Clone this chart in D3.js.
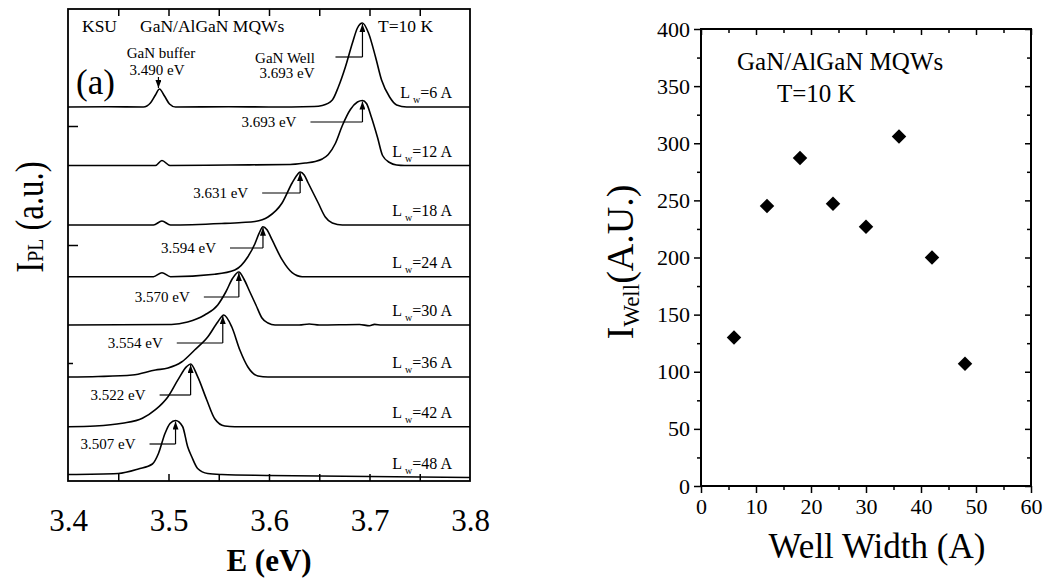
<!DOCTYPE html>
<html>
<head>
<meta charset="utf-8">
<script src="https://cdn.jsdelivr.net/npm/d3@7"></script>
<style>
  body { margin: 0; background: #fff; }
  svg text { font-family: "Liberation Serif", "Times New Roman", Times, serif !important; fill: #000; }
  .axis path { display: none; }
  .axis line { stroke: #000; stroke-width: 1.5; }
</style>
</head>
<body>
<svg id="chart" width="1044" height="585" font-family="Liberation Serif"></svg>
<script>
// ---- (a) PL spectra, one trace per well width: [E (eV), I_PL above its own baseline (a.u.)]
var wellLabels = ["6", "12", "18", "24", "30", "36", "42", "48"];
var traceOffsets = [374, 315.5, 256, 204.3, 156, 104, 54.3, 3.5];
var peakEnergies = [3.693, 3.693, 3.631, 3.594, 3.570, 3.554, 3.522, 3.507];
var bufferEnergy = 3.490;

var spec6 = [[3.400,0],[3.440,0.3],[3.475,0],[3.482,4],[3.487,12],[3.491,18],[3.496,11],[3.501,3],[3.507,0],
  [3.560,0.3],[3.600,0],[3.645,0.5],[3.653,1.5],[3.663,7],[3.669,20],[3.676,40],[3.683,64],[3.688,79],
  [3.693,84],[3.699,74],[3.706,50],[3.712,27],[3.720,10],[3.727,2],[3.737,0],[3.800,0]];
var spec12 = [[3.400,0],[3.487,0],[3.4935,5],[3.5015,0],[3.560,0.5],[3.621,1],[3.636,2.5],[3.646,4],[3.653,6.5],
  [3.659,11],[3.666,22],[3.673,40],[3.681,56],[3.688,63.5],[3.693,65],[3.697,62],[3.702,48],[3.708,28],
  [3.713,10],[3.720,3],[3.727,0.5],[3.735,0],[3.800,0]];
var spec18 = [[3.400,0],[3.485,0],[3.4935,4],[3.502,0],[3.553,1.5],[3.573,2.5],[3.586,3.5],[3.599,8],[3.613,22],
  [3.623,42],[3.628,50],[3.631,53],[3.635,50],[3.639,42],[3.649,22],[3.656,8],[3.663,2],[3.673,0],[3.800,0]];
var spec24 = [[3.400,0],[3.485,0],[3.4935,4],[3.502,0],[3.546,2.5],[3.566,6.7],[3.579,20],[3.586,33],[3.590,43],
  [3.594,50],[3.598,47],[3.603,37],[3.613,17],[3.623,4],[3.633,0],[3.800,0]];
var spec30 = [[3.400,0],[3.503,0.5],[3.519,3],[3.536,10],[3.549,20],[3.557,33],[3.564,47],[3.570,53],[3.575,46],
  [3.581,33],[3.587,20],[3.593,7],[3.599,2],[3.606,0],[3.630,0],[3.640,1],[3.650,0],[3.690,0.5],[3.700,-0.8],
  [3.705,0.6],[3.712,0],[3.800,0]];
var spec36 = [[3.400,0],[3.430,0.5],[3.464,2],[3.487,7],[3.4995,9],[3.513,15],[3.526,27],[3.539,40],[3.549,55],
  [3.555,62],[3.563,50],[3.571,27],[3.579,10],[3.589,1],[3.599,0],[3.800,0]];
var spec42 = [[3.400,0],[3.427,0.7],[3.454,3.4],[3.474,8.4],[3.487,17],[3.4995,30],[3.5095,47],[3.518,60],
  [3.522,62.7],[3.529,50],[3.538,27],[3.546,8],[3.556,0.7],[3.566,0],[3.800,0]];
var spec48 = [[3.400,3],[3.450,4],[3.470,8.5],[3.484,13.5],[3.490,24],[3.4965,44],[3.5015,54],[3.507,57],
  [3.514,51],[3.519,31],[3.523,21],[3.529,9],[3.539,4],[3.553,3],[3.600,2],[3.800,0]];
var spectra = [spec6, spec12, spec18, spec24, spec30, spec36, spec42, spec48];

// ---- (b) integrated well emission vs well width
var wellWidth = [6, 12, 18, 24, 30, 36, 42, 48];
var wellIntensity = [130, 245, 287, 247, 227, 306, 200, 107];

var eTicks = [3.4, 3.5, 3.6, 3.7, 3.8];
var wTicks = [0, 10, 20, 30, 40, 50, 60];
var iTicks = [0, 50, 100, 150, 200, 250, 300, 350, 400];

var svg = d3.select("#chart");
var serif = "'Liberation Serif', 'Times New Roman', Times, serif";

svg.append("defs").append("marker")
    .attr("id", "arrow")
    .attr("viewBox", "0 0 8 6")
    .attr("refX", 8).attr("refY", 3)
    .attr("markerWidth", 8).attr("markerHeight", 6)
    .attr("markerUnits", "userSpaceOnUse")
    .attr("orient", "auto")
  .append("path")
    .attr("d", "M0,0L8,3L0,6Z")
    .attr("fill", "#000");

// ================= left panel =================
var L = { left: 68, right: 470, top: 9, bottom: 481 };
var xE = d3.scaleLinear().domain([3.4, 3.8]).range([L.left, L.right]);
var yPL = d3.scaleLinear().domain([0, 472]).range([L.bottom, L.top]);

var gL = svg.append("g");
gL.append("clipPath").attr("id", "clipL")
  .append("rect").attr("x", L.left).attr("y", L.top)
  .attr("width", L.right - L.left).attr("height", L.bottom - L.top);

var minorE = d3.range(3.45, 3.78, 0.05);
gL.append("g").attr("class", "axis")
    .attr("transform", "translate(0," + L.bottom + ")")
    .call(d3.axisBottom(xE).tickValues(minorE).tickSize(-7).tickFormat(""));
gL.append("g").attr("class", "axis")
    .attr("transform", "translate(0," + L.top + ")")
    .call(d3.axisTop(xE).tickValues(minorE).tickSize(-7).tickFormat(""));

var eAxis = gL.append("g").attr("class", "axis")
    .attr("transform", "translate(0," + L.bottom + ")")
    .call(d3.axisBottom(xE).tickValues(eTicks).tickSize(0).tickPadding(28).tickFormat(d3.format(".1f")));
eAxis.selectAll("text").attr("font-size", 31);

// left axis ticks (no labels)
var yPLticks = [355, 236, 118];
var lAxis = gL.append("g").attr("class", "axis")
    .attr("transform", "translate(" + L.left + ",0)")
    .call(d3.axisLeft(yPL).tickValues(yPLticks).tickSize(-10).tickFormat(""));
lAxis.selectAll(".tick line").attr("x2", function(d) { return d === 118 ? 5 : 10; });

var line = d3.line()
    .x(function(d) { return xE(d[0]); })
    .y(function(d) { return yPL(d[1]); })
    .curve(d3.curveMonotoneX);

spectra.forEach(function(s, i) {
    var off = traceOffsets[i];
    gL.append("path")
        .datum(s.map(function(p) { return [p[0], p[1] + off]; }))
        .attr("d", line)
        .attr("fill", "none")
        .attr("stroke", "#000")
        .attr("stroke-width", 1.6)
        .attr("clip-path", "url(#clipL)");

    var lab = gL.append("text")
        .attr("x", 452)
        .attr("y", yPL(off) - 9)
        .attr("text-anchor", "end")
        .attr("font-size", 16);
    lab.append("tspan").text("L");
    lab.append("tspan").attr("font-size", 10).attr("dx", 3).attr("dy", 5).text("w");
    lab.append("tspan").attr("dy", -5).text("=" + wellLabels[i] + " A");
});

// peak markers: [height of leader above baseline, leader length]
var leaders = [[50, 27], [43.5, 52], [32, 38], [28.7, 33], [28, 35], [34, 46], [31.7, 31], [33.5, 26]];
spectra.forEach(function(s, i) {
    var off = traceOffsets[i];
    var top = d3.max(s, function(d) { return d[1]; });
    var px = xE(peakEnergies[i]);
    var ly = yPL(off + leaders[i][0]);
    gL.append("line")
        .attr("x1", px - leaders[i][1]).attr("x2", px)
        .attr("y1", ly).attr("y2", ly)
        .attr("stroke", "#000").attr("stroke-width", 1.2);
    gL.append("line")
        .attr("x1", px).attr("x2", px)
        .attr("y1", ly).attr("y2", yPL(off + top) + 1)
        .attr("stroke", "#000").attr("stroke-width", 1.2)
        .attr("marker-end", "url(#arrow)");
    if (i > 0) {
        gL.append("text")
            .attr("x", px - leaders[i][1] - 14)
            .attr("y", ly + 5)
            .attr("text-anchor", "end")
            .attr("font-size", 15)
            .text(peakEnergies[i].toFixed(3) + " eV");
    }
});

// GaN well / buffer annotation on top trace
gL.append("text").attr("x", 285).attr("y", 63).attr("text-anchor", "middle")
    .attr("font-size", 15).text("GaN Well");
gL.append("text").attr("x", 287).attr("y", 78).attr("text-anchor", "middle")
    .attr("font-size", 15).text(peakEnergies[0].toFixed(3) + " eV");
gL.append("text").attr("x", 161).attr("y", 58).attr("text-anchor", "middle")
    .attr("font-size", 15).text("GaN buffer");
gL.append("text").attr("x", 157).attr("y", 75).attr("text-anchor", "middle")
    .attr("font-size", 15).text(bufferEnergy.toFixed(3) + " eV");
gL.append("line")
    .attr("x1", xE(bufferEnergy)).attr("x2", xE(bufferEnergy))
    .attr("y1", 77).attr("y2", yPL(traceOffsets[0] + 18) - 1)
    .attr("stroke", "#000").attr("stroke-width", 1.2)
    .attr("marker-end", "url(#arrow)");

gL.append("text").attr("x", 82).attr("y", 32).attr("font-size", 17.5).text("KSU");
gL.append("text").attr("x", 140).attr("y", 32).attr("font-size", 17.5).text("GaN/AlGaN MQWs");
gL.append("text").attr("x", 378).attr("y", 32).attr("font-size", 17.5).text("T=10 K");
gL.append("text").attr("x", 76).attr("y", 94).attr("font-size", 35).text("(a)");

gL.append("rect")
    .attr("x", L.left).attr("y", L.top)
    .attr("width", L.right - L.left).attr("height", L.bottom - L.top)
    .attr("fill", "none").attr("stroke", "#000").attr("stroke-width", 1.8);

gL.append("text")
    .attr("x", (L.left + L.right) / 2).attr("y", 571)
    .attr("text-anchor", "middle").attr("font-size", 31).attr("font-weight", "bold")
    .text("E (eV)");

var yl = gL.append("text")
    .attr("transform", "translate(43,217) rotate(-90) scale(0.82,1)")
    .attr("text-anchor", "middle").attr("font-size", 40);
yl.append("tspan").text("I");
yl.append("tspan").attr("font-size", 24).text("PL");
yl.append("tspan").text(" (a.u.)");

// ================= right panel =================
var R = { left: 701, right: 1031, top: 29, bottom: 486 };
var xW = d3.scaleLinear().domain([0, 60]).range([R.left, R.right]);
var yI = d3.scaleLinear().domain([0, 400]).range([R.bottom, R.top]);
var gR = svg.append("g");

function sizeTicks(sel, values, major, minor, attr) {
    sel.selectAll(".tick line").attr(attr, function(d) {
        var v = +this.getAttribute(attr);
        return (v < 0 ? -1 : 1) * (values.indexOf(d) >= 0 ? major : minor);
    });
}

var wAll = d3.range(0, 61, 5), iAll = d3.range(0, 401, 25);
var bx = gR.append("g").attr("class", "axis")
    .attr("transform", "translate(0," + R.bottom + ")")
    .call(d3.axisBottom(xW).tickValues(wAll).tickSize(7).tickPadding(5)
        .tickFormat(function(d) { return wTicks.indexOf(d) >= 0 ? d : ""; }));
sizeTicks(bx, wTicks, 7, 4, "y2");
var tx = gR.append("g").attr("class", "axis")
    .attr("transform", "translate(0," + R.top + ")")
    .call(d3.axisTop(xW).tickValues(wAll).tickSize(-6).tickFormat(""));
sizeTicks(tx, wTicks, 6, 4, "y2");
var ly2 = gR.append("g").attr("class", "axis")
    .attr("transform", "translate(" + R.left + ",0)")
    .call(d3.axisLeft(yI).tickValues(iAll).tickSize(7).tickPadding(4)
        .tickFormat(function(d) { return iTicks.indexOf(d) >= 0 ? d : ""; }));
sizeTicks(ly2, iTicks, 7, 4, "x2");
var ry = gR.append("g").attr("class", "axis")
    .attr("transform", "translate(" + R.right + ",0)")
    .call(d3.axisRight(yI).tickValues(iAll).tickSize(-6).tickFormat(""));
sizeTicks(ry, iTicks, 6, 4, "x2");
gR.selectAll(".axis text").attr("font-size", 22);

gR.append("rect")
    .attr("x", R.left).attr("y", R.top)
    .attr("width", R.right - R.left).attr("height", R.bottom - R.top)
    .attr("fill", "none").attr("stroke", "#000").attr("stroke-width", 2);

gR.selectAll(".pt")
    .data(wellWidth)
    .enter().append("path")
    .attr("class", "pt")
    .attr("d", d3.symbol().type(d3.symbolSquare).size(105))
    .attr("transform", function(d, i) {
        return "translate(" + xW(d) + "," + yI(wellIntensity[i]) + ") rotate(45)";
    })
    .attr("fill", "#000");

gR.append("text").attr("x", 737).attr("y", 70).attr("font-size", 25).text("GaN/AlGaN MQWs");
gR.append("text").attr("x", 777).attr("y", 102).attr("font-size", 25).text("T=10 K");

gR.append("text")
    .attr("x", 877).attr("y", 558)
    .attr("text-anchor", "middle").attr("font-size", 35)
    .text("Well Width (A)");

var yr = gR.append("text")
    .attr("transform", "translate(633,262) rotate(-90)")
    .attr("text-anchor", "middle").attr("font-size", 38);
yr.append("tspan").text("I");
yr.append("tspan").attr("font-size", 23).attr("dy", 6).text("Well");
yr.append("tspan").attr("dy", -6).text("(A.U.)");

// make sure the axis groups don't force their own font
svg.selectAll(".axis").attr("font-family", null);
svg.selectAll("text").style("font-family", serif);
</script>
</body>
</html>
